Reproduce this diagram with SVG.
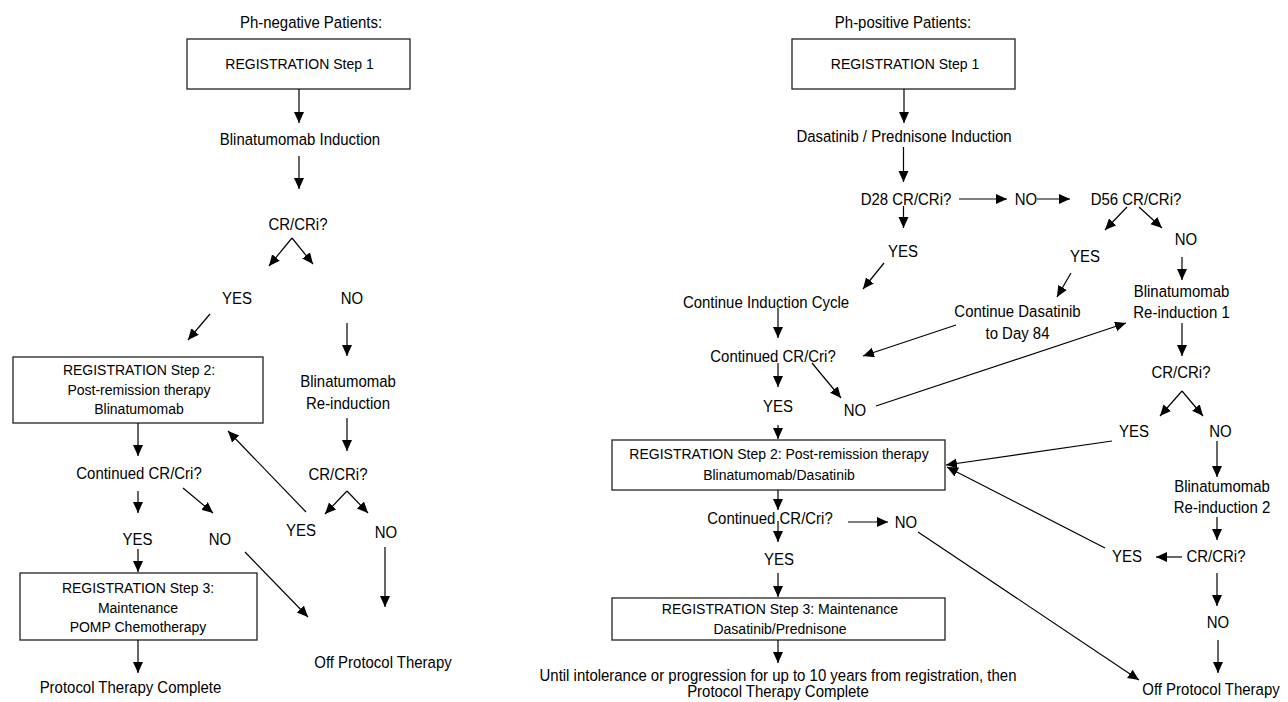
<svg xmlns="http://www.w3.org/2000/svg" width="1288" height="702" viewBox="0 0 1288 702">
<style>
text{font-family:"Liberation Sans",Arial,sans-serif;fill:#000;text-anchor:middle}
.t{font-size:17px;transform-box:fill-box;transform-origin:center;transform:scaleX(0.88)}
.b{font-size:14px}
.box{fill:#fff;stroke:#222;stroke-width:1.3}
.c line{stroke:#000;stroke-width:1.2;marker-end:url(#ah)}
</style>
<defs>
<marker id="ah" markerUnits="userSpaceOnUse" markerWidth="12" markerHeight="11" refX="11" refY="5" orient="auto">
<path d="M0,0 L11,5 L0,10 z" fill="#000"/>
</marker>
</defs>
<rect width="1288" height="702" fill="#fff"/>

<!-- LEFT PANEL -->
<g id="title-neg"><text class="t" x="311" y="28">Ph-negative Patients:</text></g>
<g id="n-reg1"><rect class="box" x="187" y="39" width="223" height="50"/><text class="b" x="299.5" y="69">REGISTRATION Step 1</text></g>
<g id="n-blin-ind"><text class="t" x="300" y="145">Blinatumomab Induction</text></g>
<g id="n-crcri1"><text class="t" x="298" y="230">CR/CRi?</text></g>
<g id="n-yes1"><text class="t" x="237" y="304">YES</text></g>
<g id="n-no1"><text class="t" x="352" y="304">NO</text></g>
<g id="n-reg2"><rect class="box" x="13" y="357" width="250" height="66"/><text class="b" x="139" y="375">REGISTRATION Step 2:<tspan x="139" y="395">Post-remission therapy</tspan><tspan x="139" y="414">Blinatumomab</tspan></text></g>
<g id="n-blin-reind"><text class="t" x="348" y="387">Blinatumomab<tspan x="348" y="409">Re-induction</tspan></text></g>
<g id="n-cont1"><text class="t" x="139" y="479">Continued CR/Cri?</text></g>
<g id="n-crcri2"><text class="t" x="338" y="480">CR/CRi?</text></g>
<g id="n-yes2"><text class="t" x="301" y="536">YES</text></g>
<g id="n-no2"><text class="t" x="386" y="538">NO</text></g>
<g id="n-yes3"><text class="t" x="137.5" y="545">YES</text></g>
<g id="n-no3"><text class="t" x="220" y="545">NO</text></g>
<g id="n-reg3"><rect class="box" x="20" y="573" width="237" height="67"/><text class="b" x="138" y="593">REGISTRATION Step 3:<tspan x="138" y="613">Maintenance</tspan><tspan x="138" y="632">POMP Chemotherapy</tspan></text></g>
<g id="n-off1"><text class="t" x="383" y="668">Off Protocol Therapy</text></g>
<g id="n-complete1"><text class="t" x="130.5" y="693">Protocol Therapy Complete</text></g>

<!-- RIGHT PANEL -->
<g id="title-pos"><text class="t" x="903" y="28">Ph-positive Patients:</text></g>
<g id="p-reg1"><rect class="box" x="792" y="39" width="223" height="50"/><text class="b" x="905" y="69">REGISTRATION Step 1</text></g>
<g id="p-das-ind"><text class="t" x="904" y="142">Dasatinib / Prednisone Induction</text></g>
<g id="p-d28"><text class="t" x="906" y="205">D28 CR/CRi?</text></g>
<g id="p-no-d28"><text class="t" x="1026" y="205">NO</text></g>
<g id="p-d56"><text class="t" x="1136" y="205">D56 CR/CRi?</text></g>
<g id="p-yes-d28"><text class="t" x="903" y="257">YES</text></g>
<g id="p-no-d56"><text class="t" x="1186" y="245">NO</text></g>
<g id="p-yes-d56"><text class="t" x="1085" y="262">YES</text></g>
<g id="p-cont-ind"><text class="t" x="766" y="308">Continue Induction Cycle</text></g>
<g id="p-cont-das"><text class="t" x="1017.5" y="317">Continue Dasatinib<tspan x="1017.5" y="339">to Day 84</tspan></text></g>
<g id="p-blin1"><text class="t" x="1181.5" y="297">Blinatumomab<tspan x="1181.5" y="318">Re-induction 1</tspan></text></g>
<g id="p-cont1"><text class="t" x="773" y="362">Continued CR/Cri?</text></g>
<g id="p-crcri1"><text class="t" x="1181" y="378">CR/CRi?</text></g>
<g id="p-yes-c1"><text class="t" x="778" y="412">YES</text></g>
<g id="p-no-c1"><text class="t" x="855" y="416">NO</text></g>
<g id="p-yes-b1"><text class="t" x="1134" y="437">YES</text></g>
<g id="p-no-b1"><text class="t" x="1220.5" y="437">NO</text></g>
<g id="p-reg2"><rect class="box" x="612" y="440" width="333" height="50"/><text class="b" x="779" y="459">REGISTRATION Step 2: Post-remission therapy<tspan x="779" y="480">Blinatumomab/Dasatinib</tspan></text></g>
<g id="p-blin2"><text class="t" x="1222" y="492">Blinatumomab<tspan x="1222" y="513">Re-induction 2</tspan></text></g>
<g id="p-cont2"><text class="t" x="770" y="524">Continued CR/Cri?</text></g>
<g id="p-no-c2"><text class="t" x="906" y="528">NO</text></g>
<g id="p-yes-b2"><text class="t" x="1127" y="562">YES</text></g>
<g id="p-crcri2"><text class="t" x="1216" y="562">CR/CRi?</text></g>
<g id="p-yes-c2"><text class="t" x="779" y="565">YES</text></g>
<g id="p-reg3"><rect class="box" x="612" y="598" width="333" height="42"/><text class="b" x="780" y="614">REGISTRATION Step 3: Maintenance<tspan x="780" y="634">Dasatinib/Prednisone</tspan></text></g>
<g id="p-no-b2"><text class="t" x="1218" y="628">NO</text></g>
<g id="p-until"><text class="t" x="778" y="681">Until intolerance or progression for up to 10 years from registration, then<tspan x="778" y="697">Protocol Therapy Complete</tspan></text></g>
<g id="p-off"><text class="t" x="1211" y="695">Off Protocol Therapy</text></g>

<g id="connectors" class="c">
<!-- left -->
<line x1="299" y1="89" x2="299" y2="123"/>
<line x1="299" y1="156" x2="299" y2="189"/>
<line x1="292" y1="238" x2="269" y2="266"/>
<line x1="292" y1="238" x2="313" y2="264"/>
<line x1="210" y1="314" x2="188" y2="340"/>
<line x1="347" y1="323" x2="347" y2="356"/>
<line x1="347" y1="418" x2="347" y2="451"/>
<line x1="306" y1="512" x2="228" y2="431"/>
<line x1="138" y1="423" x2="138" y2="456"/>
<line x1="138" y1="491" x2="138" y2="513"/>
<line x1="183" y1="488" x2="213" y2="513"/>
<line x1="138" y1="549" x2="138" y2="572"/>
<line x1="347" y1="491" x2="325" y2="514"/>
<line x1="347" y1="491" x2="368" y2="513"/>
<line x1="385" y1="547" x2="385" y2="607"/>
<line x1="245" y1="552" x2="308" y2="617"/>
<line x1="138" y1="640" x2="138" y2="673"/>
<!-- right -->
<line x1="904" y1="89" x2="904" y2="123"/>
<line x1="903.5" y1="147" x2="903.5" y2="182"/>
<line x1="959" y1="199" x2="1007" y2="199"/>
<line x1="1037" y1="199" x2="1070" y2="199"/>
<line x1="903.5" y1="206" x2="903.5" y2="228"/>
<line x1="1127" y1="207" x2="1105" y2="230"/>
<line x1="1139" y1="207" x2="1162" y2="228"/>
<line x1="884" y1="263" x2="863" y2="289"/>
<line x1="1071" y1="273" x2="1057" y2="297"/>
<line x1="1182" y1="257" x2="1182" y2="280"/>
<line x1="778" y1="308" x2="778" y2="338"/>
<line x1="956" y1="325" x2="863" y2="356"/>
<line x1="1182" y1="323" x2="1182" y2="356"/>
<line x1="778" y1="363" x2="778" y2="387"/>
<line x1="812" y1="363" x2="841" y2="398"/>
<line x1="1182" y1="391" x2="1160" y2="416"/>
<line x1="1182" y1="391" x2="1203" y2="416"/>
<line x1="876" y1="406" x2="1126" y2="323"/>
<line x1="778" y1="425" x2="778" y2="439"/>
<line x1="1112" y1="441" x2="946" y2="465"/>
<line x1="1217" y1="441" x2="1217" y2="477"/>
<line x1="778" y1="490" x2="778" y2="510"/>
<line x1="1217" y1="517" x2="1217" y2="540"/>
<line x1="778" y1="521" x2="778" y2="542"/>
<line x1="848" y1="522" x2="888" y2="522"/>
<line x1="1105" y1="548" x2="947" y2="467"/>
<line x1="1182" y1="557" x2="1156" y2="557"/>
<line x1="778" y1="573" x2="778" y2="597"/>
<line x1="1217" y1="573" x2="1217" y2="606"/>
<line x1="1218" y1="640" x2="1218" y2="673"/>
<line x1="778" y1="640" x2="778" y2="663"/>
<line x1="918" y1="532" x2="1139" y2="680"/>
</g>
</svg>
